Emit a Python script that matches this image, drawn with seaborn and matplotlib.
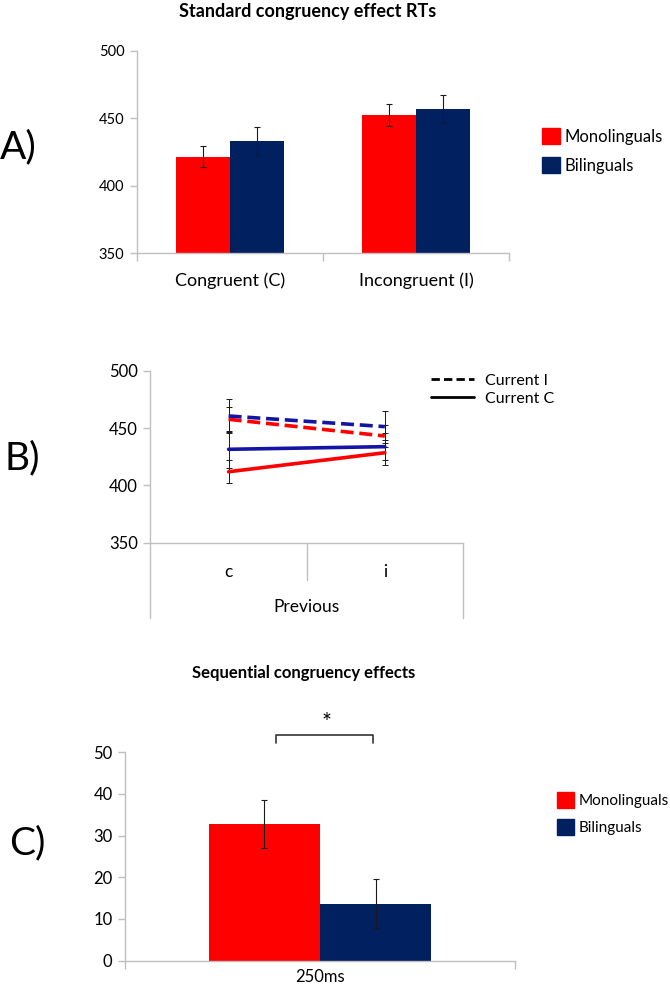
import pandas as pd
import matplotlib
matplotlib.use("Agg")
import matplotlib.pyplot as plt
from matplotlib.lines import Line2D
from matplotlib.patches import Patch
import seaborn as sns

groups = ["Monolinguals", "Bilinguals"]

# A) standard congruency effect
cond_a = ["Congruent (C)", "Incongruent (I)"]
mono_a = [421.5, 452.5]
bi_a = [433.2, 456.7]
mono_a_err = [8, 8]
bi_a_err = [10.5, 10.4]

# B) previous trial x current trial
prev_b = ["c", "i"]
mono_cur_i = [457.8, 443.2]
bi_cur_i = [460.7, 451.4]
mono_cur_c = [412.0, 428.6]
bi_cur_c = [431.6, 433.9]
mono_cur_i_err = [11, 10]
bi_cur_i_err = [14.5, 14]
mono_cur_c_err = [10, 10.7]
bi_cur_c_err = [16, 11.7]

# C) sequential congruency effects
cond_c = ["250ms"]
mono_c = [32.7]
bi_c = [13.7]
mono_c_err = [5.7]
bi_c_err = [5.8]

red = "#FF0000"
navy = "#002060"
blue = "#1515A5"
grey = "#BFBFBF"

sns.set_style("white")
plt.rcParams["font.family"] = ["Lato", "DejaVu Sans"]
plt.rcParams["text.color"] = "black"
plt.rcParams["xtick.labelcolor"] = "black"
plt.rcParams["ytick.labelcolor"] = "black"

fig = plt.figure(figsize=(6.7, 9.88), dpi=100)


def style_axis(ax, ysize, xsize, xpad):
    for s in ["top", "right"]:
        ax.spines[s].set_visible(False)
    for s in ["left", "bottom"]:
        ax.spines[s].set_color(grey)
        ax.spines[s].set_linewidth(1)
    ax.tick_params(axis="y", which="major", length=5, width=1, color=grey,
                   labelsize=ysize, pad=4, left=True)
    ax.tick_params(axis="x", which="major", length=0, labelsize=xsize, pad=xpad)
    ax.tick_params(axis="x", which="minor", length=6, width=1, color=grey, bottom=True)
    ax.set_xlabel("")
    ax.set_ylabel("")


def add_errbars(ax, errs):
    bars = list(ax.containers)
    for cont, e in zip(bars, errs):
        for bar, err in zip(cont, e):
            ax.errorbar(bar.get_x() + bar.get_width() / 2, bar.get_height(), yerr=err,
                        fmt="none", ecolor="#1a1a1a", elinewidth=0.8, capsize=2.5, capthick=0.8)


# ---------- A ----------
ax_a = fig.add_axes([0.2045, 0.7439, 0.555, 0.2045])
df_a = pd.DataFrame({
    "cond": cond_a * 2,
    "group": [groups[0]] * 2 + [groups[1]] * 2,
    "rt": mono_a + bi_a,
})
sns.barplot(data=df_a, x="cond", y="rt", hue="group", palette=[red, navy], width=0.58,
            errorbar=None, saturation=1, linewidth=0, legend=False, ax=ax_a)
add_errbars(ax_a, [mono_a_err, bi_a_err])
ax_a.set_ylim(350, 500)
ax_a.set_yticks([350, 400, 450, 500])
ax_a.set_xlim(-0.5, 1.5)
ax_a.set_xticks([-0.5, 0.5, 1.5], minor=True)
style_axis(ax_a, 10.5, 13, 14)
ax_a.legend([Patch(color=red), Patch(color=navy)], groups, loc="center left",
            bbox_to_anchor=(542 / 670, 1 - 151 / 988), bbox_transform=fig.transFigure,
            frameon=False, fontsize=12, handlelength=1.05, handleheight=1.05,
            handletextpad=0.3, labelspacing=0.75, borderpad=0, borderaxespad=0)
fig.text(308 / 670, 1 - 11 / 988, "Standard congruency effect RTs", ha="center", va="center",
         fontsize=13, fontweight="bold")
fig.text(0.0, 1 - 147 / 988, "A)", fontsize=28, ha="left", va="center")

# ---------- B ----------
ax_b = fig.add_axes([0.2246, 0.4507, 0.4664, 0.1738])
df_b = pd.DataFrame({
    "prev": prev_b * 4,
    "group": [groups[0]] * 2 + [groups[1]] * 2 + [groups[0]] * 2 + [groups[1]] * 2,
    "current": ["Current I"] * 4 + ["Current C"] * 4,
    "rt": mono_cur_i + bi_cur_i + mono_cur_c + bi_cur_c,
    "err": mono_cur_i_err + bi_cur_i_err + mono_cur_c_err + bi_cur_c_err,
})
sns.lineplot(data=df_b, x="prev", y="rt", hue="group", style="current",
             palette={groups[0]: red, groups[1]: blue},
             dashes={"Current I": (3.6, 1.6), "Current C": ""},
             linewidth=2.6, errorbar=None, sort=False, legend=False, ax=ax_b)
ax_b.errorbar(df_b["prev"], df_b["rt"], yerr=df_b["err"], fmt="none", ecolor="#1a1a1a",
              elinewidth=0.7, capsize=2.5, capthick=0.7, zorder=1)
ax_b.set_ylim(350, 500)
ax_b.set_yticks([350, 400, 450, 500])
ax_b.set_xlim(-0.5, 1.5)
style_axis(ax_b, 12, 12.5, 15)
ax_b.tick_params(axis="x", which="minor", length=0)
# category box below the axis
for x0, y1 in [(0, -0.44), (0.5, -0.217), (1, -0.44)]:
    ax_b.add_line(Line2D([x0, x0], [0, y1], transform=ax_b.transAxes, color=grey,
                         lw=1, clip_on=False))
ax_b.text(0.5, -0.374, "Previous", transform=ax_b.transAxes, ha="center", va="center",
          fontsize=12.5)
ax_b.legend([Line2D([], [], color="black", lw=2, ls=(0, (3, 1.5))),
             Line2D([], [], color="black", lw=2)],
            ["Current I", "Current C"], loc="center left",
            bbox_to_anchor=(431 / 670, 1 - 389.5 / 988), bbox_transform=fig.transFigure,
            frameon=False, fontsize=11.5, handlelength=2.7, handletextpad=0.7,
            labelspacing=0.25, borderpad=0, borderaxespad=0)
fig.text(4 / 670, 1 - 458 / 988, "B)", fontsize=28, ha="left", va="center")

# ---------- C ----------
ax_c = fig.add_axes([0.1866, 0.0276, 0.582, 0.2112])
df_c = pd.DataFrame({
    "cond": cond_c * 2,
    "group": groups,
    "effect": mono_c + bi_c,
})
sns.barplot(data=df_c, x="cond", y="effect", hue="group", palette=[red, navy], width=0.57,
            errorbar=None, saturation=1, linewidth=0, legend=False, ax=ax_c)
add_errbars(ax_c, [mono_c_err, bi_c_err])
ax_c.set_ylim(0, 50)
ax_c.set_yticks(range(0, 51, 10))
ax_c.set_xlim(-0.5, 0.5)
ax_c.set_xticks([-0.5, 0.5], minor=True)
style_axis(ax_c, 12, 12, 6)
# significance bracket
ax_c.plot([-0.113, -0.113, 0.135, 0.135], [52.2, 54.1, 54.1, 52.2], color="#333333",
          lw=1.2, clip_on=False)
ax_c.text(0.018, 57.0, "*", ha="center", va="center", fontsize=17)
ax_c.legend([Patch(color=red), Patch(color=navy)], groups, loc="center left",
            bbox_to_anchor=(557 / 670, 1 - 813.5 / 988), bbox_transform=fig.transFigure,
            frameon=False, fontsize=11, handlelength=1.1, handleheight=1.25,
            handletextpad=0.3, labelspacing=0.75, borderpad=0, borderaxespad=0)
fig.text(303.6 / 670, 1 - 673 / 988, "Sequential congruency effects", ha="center", va="center",
         fontsize=12, fontweight="bold")
fig.text(9 / 670, 1 - 843 / 988, "C)", fontsize=28, ha="left", va="center")

fig.savefig("out.png", dpi=100)
